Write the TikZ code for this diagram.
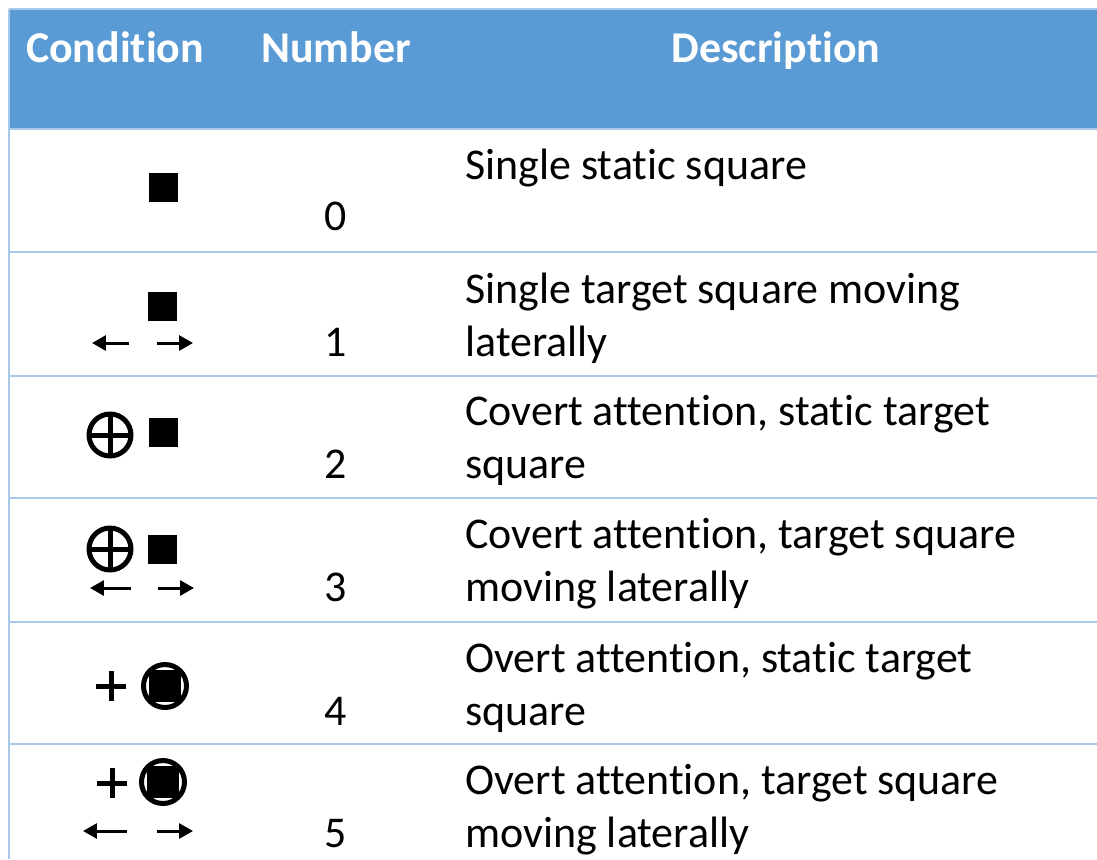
\documentclass[tikz,border=0pt]{standalone}
\usepackage{fontspec}
\setmainfont{Carlito}[Ligatures=CommonOff]
\usetikzlibrary{arrows.meta}
\definecolor{headblue}{HTML}{5B9BD5}
\definecolor{gridblue}{HTML}{A9C9EB}

\tikzset{
  hdtext/.style={anchor=base, inner sep=0pt, text=white, font=\fontsize{25}{30}\selectfont\bfseries},
  desctext/.style={anchor=base west, align=left, inner sep=0pt, font=\fontsize{25}{30}\selectfont},
  numtext/.style={anchor=base, inner sep=0pt, font=\fontsize{25}{30}\selectfont},
  rowline/.style={gridblue, line width=0.04cm},
  tsquare/.style={rectangle, fill=black, inner sep=0pt, minimum size=0.58cm},
  fixsquare/.style={rectangle, fill=black, inner sep=0pt, minimum size=0.64cm},
  fixring/.style={circle, draw, fill=white, line width=0.1cm, inner sep=0pt, minimum size=0.86cm},
  fixcross/.style={line width=0.1cm},
  moveline/.style={line width=0.06cm, -{Triangle[length=0.28cm, width=0.3cm]}}
}

\begin{document}
\begin{tikzpicture}[x=0.02cm, y=-0.02cm]
  \useasboundingbox (0,0) rectangle (1097,859);

  % header band
  \fill[headblue] (9,9) rectangle (1097,129);
  \node[hdtext] (hdcond) at (115,62) {Condition};
  \node[hdtext] (hdnum) at (336,62) {Number};
  \node[hdtext] (hddesc) at (776,62) {Description};

  % grid
  \draw[rowline] (9,9) -- (1097,9);
  \draw[rowline] (9,9) -- (9,859);
  \foreach \y in {129,252,376,498,622,744}
    \draw[rowline] (9,\y) -- (1097,\y);

  % numbers
  \node[numtext] (num0) at (336,230) {0};
  \node[numtext] (num1) at (336,356) {1};
  \node[numtext] (num2) at (336,478) {2};
  \node[numtext] (num3) at (336,601) {3};
  \node[numtext] (num4) at (336,725) {4};
  \node[numtext] (num5) at (336,847) {5};

  % descriptions (base = last line)
  \node[desctext] (desc0) at (465,179) {Single static square};
  \node[desctext] (desc1) at (465,356) {Single target square moving\\laterally};
  \node[desctext] (desc2) at (465,478) {Covert attention, static target\\square};
  \node[desctext] (desc3) at (465,601) {Covert attention, target square\\moving laterally};
  \node[desctext] (desc4) at (465,725) {Overt attention, static target\\square};
  \node[desctext] (desc5) at (465,847) {Overt attention, target square\\moving laterally};

  % condition 0
  \node[tsquare] (sq0) at (163,187) {};
  % condition 1
  \node[tsquare] (sq1) at (162,306) {};
  \draw[moveline] (129,343) -- (92,343);
  \draw[moveline] (157,343) -- (193,343);
  % condition 2
  \node[tsquare] (sq2) at (163,432) {};
  \draw[fixcross] (110,435) circle[radius=0.42cm];
  \draw[fixcross] (89,435) -- (131,435) (110,414) -- (110,456);
  % condition 3
  \node[tsquare] (sq3) at (162,549) {};
  \draw[fixcross] (110,549) circle[radius=0.42cm];
  \draw[fixcross] (89,549) -- (131,549) (110,528) -- (110,570);
  \draw[moveline] (131,588) -- (90,588);
  \draw[moveline] (158,588) -- (194,588);
  % condition 4
  \draw[fixcross] (96,686) -- (126,686) (111,671) -- (111,701);
  \node[fixring] (ring4) at (165,686) {};
  \node[fixsquare] (sq4) at (165,686) {};
  % condition 5
  \draw[fixcross] (97,783) -- (127,783) (112,768) -- (112,798);
  \node[fixring] (ring5) at (163,782) {};
  \node[fixsquare] (sq5) at (163,782) {};
  \draw[moveline] (127,831) -- (83,831);
  \draw[moveline] (157,831) -- (193,831);
\end{tikzpicture}
\end{document}
